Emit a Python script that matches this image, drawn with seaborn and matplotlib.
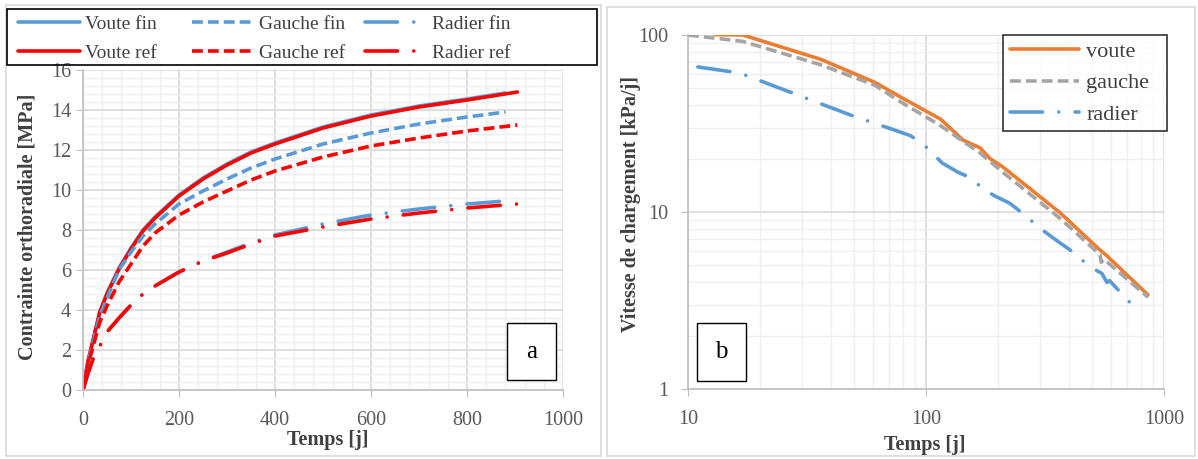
import numpy as np
import matplotlib
matplotlib.use("Agg")
import matplotlib.pyplot as plt
from matplotlib.ticker import MultipleLocator, LogLocator, FixedLocator, NullFormatter
from matplotlib.patches import Rectangle
import seaborn as sns

# Panel a : contrainte orthoradiale [MPa] vs temps [j]
t_fin = [0, 10, 20, 35, 50, 75, 100, 125, 150, 200, 250, 300, 350, 400, 500, 600, 700, 800, 880]
t_ref = [0, 10, 20, 35, 50, 75, 100, 125, 150, 200, 250, 300, 350, 400, 500, 600, 700, 800, 905]
voute_fin = [0, 1.4, 2.4, 3.9, 4.85, 6.1, 7.1, 8.0, 8.65, 9.75, 10.6, 11.3, 11.9, 12.35, 13.15, 13.75, 14.2, 14.55, 14.85]
voute_ref = [0, 1.4, 2.4, 3.9, 4.8, 6.05, 7.05, 7.95, 8.6, 9.7, 10.55, 11.25, 11.85, 12.3, 13.1, 13.7, 14.15, 14.5, 14.9]
gauche_fin = [0, 1.3, 2.3, 3.7, 4.6, 6.0, 6.9, 7.7, 8.3, 9.3, 9.95, 10.55, 11.1, 11.55, 12.3, 12.85, 13.3, 13.65, 13.9]
gauche_ref = [0, 1.2, 2.1, 3.4, 4.2, 5.4, 6.3, 7.2, 7.85, 8.75, 9.4, 9.95, 10.5, 10.95, 11.65, 12.2, 12.6, 12.95, 13.25]
radier_fin = [0, 0.8, 1.5, 2.2, 2.9, 3.6, 4.25, 4.8, 5.2, 5.9, 6.45, 6.9, 7.35, 7.75, 8.3, 8.75, 9.05, 9.3, 9.45]
radier_ref = [0, 0.8, 1.5, 2.2, 2.9, 3.6, 4.25, 4.8, 5.2, 5.9, 6.45, 6.85, 7.3, 7.7, 8.15, 8.55, 8.85, 9.1, 9.3]

# Panel b : vitesse de chargement [kPa/j] (log-log)
t_voute = [13, 17, 36, 61, 78, 115, 143, 169, 186, 210, 366, 538, 555, 580, 857]
v_voute = [100.5, 100, 73, 54, 44.7, 33.5, 25.5, 23, 20, 18, 9.9, 6.1, 5.9, 5.6, 3.4]
t_gauche = [10, 17, 36, 61, 78, 114, 169, 210, 366, 538, 545, 560, 857]
v_gauche = [100, 92, 68, 52, 42, 31, 21.5, 16.8, 9.2, 5.75, 5.2, 5.4, 3.3]
t_radier = [11, 16.5, 28.7, 49, 74, 86, 98, 117, 136, 156, 172, 195, 225, 253, 309,
            354, 403, 489, 548, 576, 590, 700, 780]
v_radier = [66, 61, 46, 35, 29, 27, 24, 18.9, 16.8, 15.5, 13.6, 12.3, 11.2, 9.9, 7.9,
            6.9, 6.1, 4.9, 4.5, 4.0, 4.1, 3.2, 2.75]

BLUE = "#5B9BD5"
RED = "#FF0000"
ORANGE = "#ED7D31"
GREY = "#A5A5A5"
DASH = (0, (3, 1.4))
DASHDOT = (0, (9, 4.5, 0.01, 4.5))
W, H = 1198, 459

sns.set_style("white")
plt.rcParams['font.family'] = ['Liberation Serif', 'DejaVu Serif']

fig = plt.figure(figsize=(W / 100, H / 100), dpi=100)
ax1 = fig.add_axes([83 / W, 1 - 390 / H, 480 / W, 320 / H])
ax2 = fig.add_axes([688 / W, 1 - 389 / H, 476 / W, 354 / H])

# light borders of both chart areas
fig.patches.append(Rectangle((6 / W, 3 / H), 595 / W, 451 / H, transform=fig.transFigure,
                             fill=False, edgecolor="#d9d9d9", lw=1.2, zorder=0))
fig.patches.append(Rectangle((607 / W, 3 / H), 588 / W, 449 / H, transform=fig.transFigure,
                             fill=False, edgecolor="#d9d9d9", lw=1.2, zorder=0))

lw = 2.6


def draw(ax, x, y, c, ls, lab):
    cap = "round" if ls == DASHDOT else "butt"
    sns.lineplot(x=x, y=y, ax=ax, color=c, linestyle=ls, lw=lw, label=lab,
                 dash_capstyle=cap, legend=False)


series_a = [
    (t_fin, voute_fin, BLUE, "-", "Voute fin"),
    (t_ref, voute_ref, RED, "-", "Voute ref"),
    (t_fin, gauche_fin, BLUE, DASH, "Gauche fin"),
    (t_ref, gauche_ref, RED, DASH, "Gauche ref"),
    (t_fin, radier_fin, BLUE, DASHDOT, "Radier fin"),
    (t_ref, radier_ref, RED, DASHDOT, "Radier ref"),
]
for s in series_a:
    draw(ax1, *s)

series_b = [
    (t_voute, v_voute, ORANGE, "-", "voute"),
    (t_gauche, v_gauche, GREY, DASH, "gauche"),
    (t_radier, v_radier, BLUE, DASHDOT, "radier"),
]
for s in series_b:
    draw(ax2, *s)

# axes a
ax1.set_xlim(0, 1000)
ax1.set_ylim(0, 16)
ax1.xaxis.set_major_locator(MultipleLocator(200))
ax1.xaxis.set_minor_locator(MultipleLocator(40))
ax1.yaxis.set_major_locator(MultipleLocator(2))
ax1.yaxis.set_minor_locator(MultipleLocator(0.4))

# axes b
ax2.set_xscale("log")
ax2.set_yscale("log")
ax2.set_xlim(10, 1000)
ax2.set_ylim(1, 100)
ax2.xaxis.set_major_locator(FixedLocator([10, 100, 1000]))
ax2.yaxis.set_major_locator(FixedLocator([1, 10, 100]))
ax2.xaxis.set_minor_locator(LogLocator(subs=np.arange(2, 10)))
ax2.yaxis.set_minor_locator(LogLocator(subs=np.arange(2, 10)))
ax2.xaxis.set_minor_formatter(NullFormatter())
ax2.yaxis.set_minor_formatter(NullFormatter())
ax2.set_xticklabels(["10", "100", "1000"])
ax2.set_yticklabels(["1", "10", "100"])

for ax in (ax1, ax2):
    ax.grid(which="major", color="#d9d9d9", lw=1.2)
    ax.grid(which="minor", color="#efefef", lw=1.0)
    ax.set_axisbelow(True)
    for s in ("top", "right"):
        ax.spines[s].set_visible(False)
    for s in ("left", "bottom"):
        ax.spines[s].set_color("#bfbfbf")
        ax.spines[s].set_linewidth(1.2)
    ax.tick_params(which="major", direction="out", length=5, color="#bfbfbf",
                   labelsize=14.5, labelcolor="#595959", bottom=True, left=True)
    ax.tick_params(axis="x", which="major", pad=10)
    ax.tick_params(which="minor", length=0)
    ax.set_xlabel("Temps [j]", fontsize=14.5, fontweight="bold", color="#404040")
ax2.tick_params(axis="y", which="major", pad=9)

ax1.set_ylabel("Contrainte orthoradiale [MPa]", fontsize=14.5, fontweight="bold", color="#404040")
ax2.set_ylabel("Vitesse de chargement [kPa/j]", fontsize=14.5, fontweight="bold", color="#404040")

# axis title positions
ax1.xaxis.set_label_coords((328 - 83) / 480, (390 - 440) / 320)
ax2.xaxis.set_label_coords((925 - 688) / 476, (389 - 445) / 354)
ax1.yaxis.set_label_coords((28 - 83) / 480, (390 - 227) / 320)
ax2.yaxis.set_label_coords((631 - 688) / 476, (389 - 204) / 354)
for lab in (ax1.xaxis.label, ax2.xaxis.label, ax1.yaxis.label, ax2.yaxis.label):
    lab.set_va("center")

# panel tags
for ax, (x0, x1, y0, y1), tag in [(ax1, (0.883, 0.985, 0.031, 0.209), "a"),
                                  (ax2, (0.019, 0.122, 0.023, 0.186), "b")]:
    ax.add_patch(Rectangle((x0, y0), x1 - x0, y1 - y0, transform=ax.transAxes,
                           facecolor="white", edgecolor="black", lw=1.0, zorder=5))
    ax.text((x0 + x1) / 2, (y0 + y1) / 2, tag, transform=ax.transAxes, ha="center",
            va="center", fontsize=18, color="black", zorder=6)

# legend of panel a : three fixed-width columns inside one black frame
h1, l1 = ax1.get_legend_handles_labels()
fig.patches.append(Rectangle((7 / W, 1 - 65 / H), 590 / W, 56 / H, transform=fig.transFigure,
                             fill=False, edgecolor="black", lw=1.2, zorder=3))
for k, xcol in enumerate([18, 192, 365]):
    lg = fig.legend(h1[2 * k:2 * k + 2], l1[2 * k:2 * k + 2], loc="upper left",
                    bbox_to_anchor=(xcol / W, 1 - 15 / H), frameon=False, fontsize=14,
                    handlelength=3.2, handletextpad=0.25, borderaxespad=0, borderpad=0,
                    labelspacing=0.62, labelcolor="#404040")

# legend of panel b
h2, l2 = ax2.get_legend_handles_labels()
leg2 = fig.legend(h2, l2, loc="upper left", mode="expand",
                  bbox_to_anchor=(1003 / W, 1 - 134 / H, 164 / W, 99 / H),
                  frameon=True, fancybox=False, edgecolor="black", fontsize=16,
                  handlelength=3.1, handletextpad=0.35, borderaxespad=0, borderpad=0.3,
                  labelspacing=0.48, labelcolor="#404040")
leg2.get_frame().set_linewidth(1.2)

fig.savefig("out.png", dpi=100, facecolor="white")
